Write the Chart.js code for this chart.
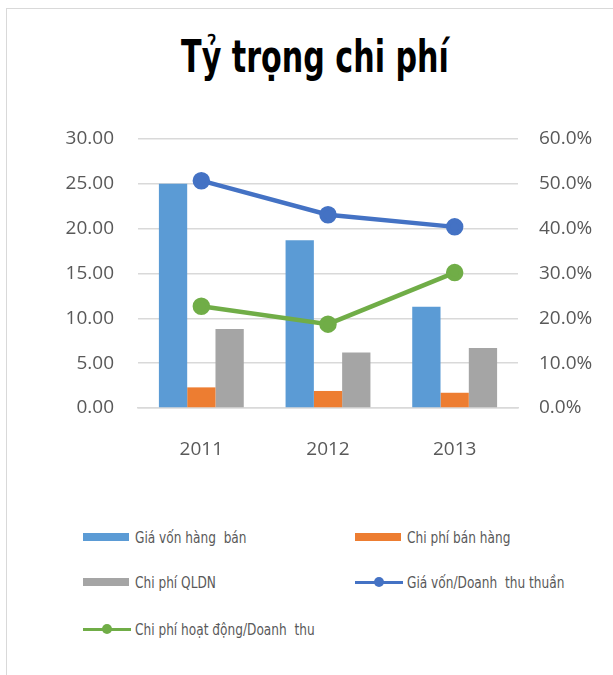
<!DOCTYPE html>
<html>
<head>
<meta charset="utf-8">
<script src="https://cdn.jsdelivr.net/npm/chart.js@4"></script>
<style>
  html, body { margin: 0; padding: 0; background: #fff; }
  body { width: 613px; height: 675px; position: relative; overflow: hidden; }
  #frame { position: absolute; left: 6px; top: 8px; width: 640px; height: 700px; border: 1.5px solid #d9d9d9; box-sizing: border-box; }
  #title { position: absolute; left: 315px; top: 30px; white-space: pre;
    transform: translateX(-50%) scaleX(0.67); transform-origin: center;
    font-family: "DejaVu Sans", sans-serif;
    font-weight: bold; font-size: 45px; color: #000; }
  #wrap { position: absolute; left: 0; top: 0; width: 613px; height: 480px; }
  .lg { position: absolute; height: 20px; display: flex; align-items: center; white-space: pre;
    font-family: "DejaVu Sans", sans-serif; font-size: 16px; color: #595959; }
  .lg .sw { position: relative; width: 46px; height: 20px; margin-right: 6px; flex: none; }
  .lg span { display: inline-block; transform: scaleX(0.76); transform-origin: left center; }
</style>
</head>
<body>
<div id="frame"></div>
<div id="title">Tỷ trọng chi phí</div>
<div id="wrap"><canvas id="c" width="613" height="480"></canvas></div>
<div id="legend"></div>
<script>
const years = ["2011", "2012", "2013"];
const giaVon = [25.0, 18.7, 11.3];
const chiPhiBanHang = [2.3, 1.9, 1.7];
const chiPhiQLDN = [8.8, 6.2, 6.7];
const giaVonTyLe = [50.7, 43.1, 40.4];
const chiPhiHoatDongTyLe = [22.7, 18.7, 30.2];
const leftTicks = [0, 5, 10, 15, 20, 25, 30];
const rightTicks = [0, 10, 20, 30, 40, 50, 60];

const tickFont = { family: "'Open Sans', 'Noto Sans', sans-serif", size: 19 };
const tickColor = "#595959";

const data = {
  labels: years,
  datasets: [
    { type: "line", label: "Giá vốn/Doanh  thu thuần", data: giaVonTyLe, yAxisID: "y1",
      borderColor: "#4472C4", backgroundColor: "#4472C4", borderWidth: 4.5,
      pointRadius: 6.5, pointHoverRadius: 6.5, tension: 0, order: 0 },
    { type: "line", label: "Chi phí hoạt động/Doanh  thu", data: chiPhiHoatDongTyLe, yAxisID: "y1",
      borderColor: "#70AD47", backgroundColor: "#70AD47", borderWidth: 4.5,
      pointRadius: 6.5, pointHoverRadius: 6.5, tension: 0, order: 1 },
    { type: "bar", label: "Giá vốn hàng  bán", data: giaVon, yAxisID: "y",
      backgroundColor: "#5B9BD5", order: 2 },
    { type: "bar", label: "Chi phí bán hàng", data: chiPhiBanHang, yAxisID: "y",
      backgroundColor: "#ED7D31", order: 3 },
    { type: "bar", label: "Chi phí QLDN", data: chiPhiQLDN, yAxisID: "y",
      backgroundColor: "#A5A5A5", order: 4 },
  ],
};

const options = {
  responsive: false,
  animation: false,
  layout: { padding: { top: 139, bottom: 0, left: 0, right: 0 } },
  datasets: { bar: { categoryPercentage: 0.67, barPercentage: 1.0 } },
  plugins: { legend: { display: false }, title: { display: false }, tooltip: { enabled: false } },
  scales: {
    x: {
      grid: { display: false, drawTicks: false },
      border: { display: true, color: "#d9d9d9", width: 1.5 },
      ticks: { color: tickColor, font: tickFont, padding: 30 },
      afterFit: (s) => { s.height = 72; },
    },
    y: {
      position: "left",
      min: 0, max: 30,
      afterBuildTicks: (s) => { s.ticks = leftTicks.map((v) => ({ value: v })); },
      ticks: { color: tickColor, font: tickFont, padding: 24, callback: (v) => v.toFixed(2) },
      grid: { color: "#d9d9d9", lineWidth: 1.5, drawTicks: false },
      border: { display: false },
      afterFit: (s) => { s.width = 138; },
    },
    y1: {
      position: "right",
      min: 0, max: 60,
      afterBuildTicks: (s) => { s.ticks = rightTicks.map((v) => ({ value: v })); },
      ticks: { color: tickColor, font: tickFont, padding: 21, callback: (v) => v.toFixed(1) + "%" },
      grid: { display: false, drawTicks: false },
      border: { display: false },
      afterFit: (s) => { s.width = 95; },
    },
  },
};

const chart = new Chart(document.getElementById("c").getContext("2d"), { data, options });

// legend built from the chart's datasets, Excel-style two columns
const legendOrder = [2, 3, 4, 0, 1];
const cols = [83, 355];
const rows = [527, 572, 619];
const legendEl = document.getElementById("legend");
legendOrder.forEach((di, i) => {
  const ds = chart.data.datasets[di];
  const item = document.createElement("div");
  item.className = "lg";
  item.style.left = cols[i % 2] + "px";
  item.style.top = rows[Math.floor(i / 2)] + "px";
  const sw = document.createElement("div");
  sw.className = "sw";
  if (ds.type === "bar") {
    sw.innerHTML = `<div style="position:absolute;left:0;top:6px;width:46px;height:8px;background:${ds.backgroundColor}"></div>`;
  } else {
    sw.innerHTML = `<div style="position:absolute;left:0;top:9px;width:48px;height:2.5px;background:${ds.borderColor}"></div>` +
      `<div style="position:absolute;left:19px;top:5px;width:10px;height:10px;border-radius:50%;background:${ds.borderColor}"></div>`;
  }
  item.appendChild(sw);
  const tx = document.createElement("span");
  tx.textContent = ds.label;
  item.appendChild(tx);
  legendEl.appendChild(item);
});
</script>
</body>
</html>
